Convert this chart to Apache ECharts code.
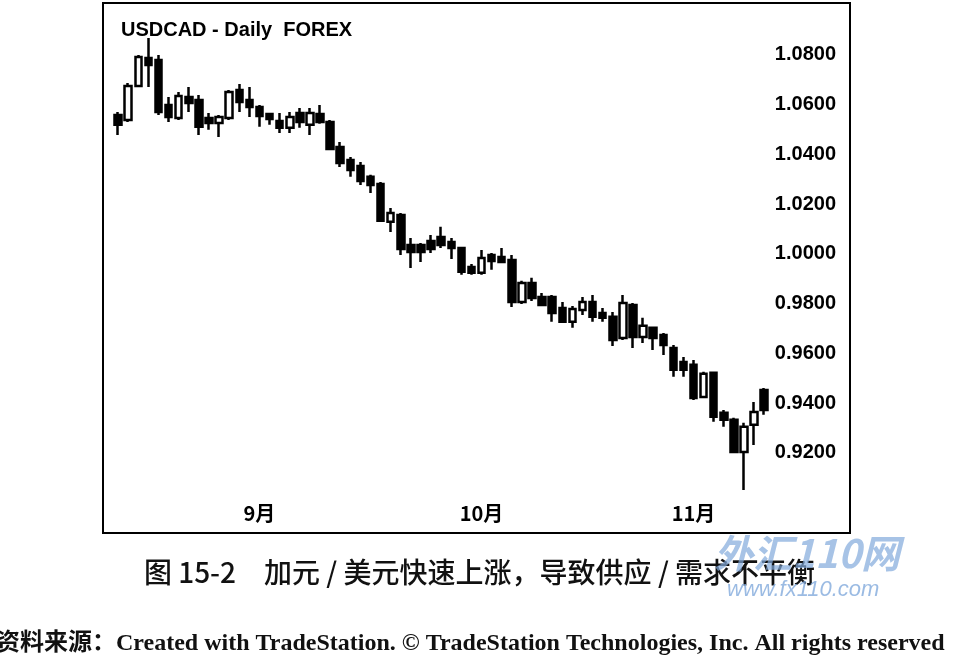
<!DOCTYPE html>
<html>
<head>
<meta charset="utf-8">
<script src="https://cdn.jsdelivr.net/npm/echarts@6/dist/echarts.min.js"></script>
<style>
  html, body { margin: 0; padding: 0; background: #fff; }
  #chart { width: 959px; height: 655px; }
</style>
</head>
<body>
<div id="chart"></div>
<script>
// ---- data ----
const chartTitle = 'USDCAD - Daily  FOREX';
const caption = '图 15-2　加元 / 美元快速上涨，导致供应 / 需求不平衡';
const source = '资料来源：Created with TradeStation. © TradeStation Technologies, Inc. All rights reserved';
const watermark1 = '外汇110网';
const watermark2 = 'www.fx110.com';

const opens  = [1.0559,1.0539,1.0675,1.0788,1.0780,1.0599,1.0547,1.0631,1.0619,1.0547,
                1.0527,1.0547,1.0659,1.0619,1.0591,1.0563,1.0535,1.0507,1.0567,1.0519,
                1.0563,1.0531,1.0430,1.0378,1.0354,1.0310,1.0281,1.0129,1.0157,1.0036,
                1.0036,1.0052,1.0068,1.0048,1.0024,0.9948,0.9924,0.9996,0.9988,0.9976,
                0.9807,0.9883,0.9827,0.9827,0.9783,0.9727,0.9775,0.9807,0.9763,0.9747,
                0.9662,0.9795,0.9666,0.9703,0.9674,0.9622,0.9566,0.9554,0.9425,0.9522,
                0.9361,0.9333,0.9204,0.9313,0.9453];
const closes = [1.0519,1.0675,1.0792,1.0760,1.0571,1.0551,1.0635,1.0607,1.0511,1.0527,
                1.0551,1.0651,1.0611,1.0591,1.0555,1.0543,1.0507,1.0551,1.0531,1.0567,
                1.0531,1.0422,1.0366,1.0338,1.0293,1.0277,1.0133,1.0165,1.0020,1.0008,
                1.0008,1.0020,1.0036,1.0024,0.9928,0.9924,0.9984,0.9972,0.9968,0.9807,
                0.9883,0.9823,0.9795,0.9763,0.9727,0.9779,0.9807,0.9747,0.9743,0.9654,
                0.9803,0.9666,0.9711,0.9662,0.9634,0.9534,0.9534,0.9421,0.9518,0.9345,
                0.9333,0.9204,0.9305,0.9365,0.9373];
const lows   = [1.0478,1.0531,1.0671,1.0671,1.0559,1.0531,1.0539,1.0571,1.0478,1.0499,
                1.0470,1.0539,1.0571,1.0551,1.0511,1.0519,1.0486,1.0486,1.0507,1.0478,
                1.0523,1.0418,1.0350,1.0310,1.0277,1.0245,1.0129,1.0088,0.9996,0.9944,
                0.9968,1.0004,1.0024,0.9980,0.9916,0.9916,0.9916,0.9936,0.9964,0.9787,
                0.9799,0.9811,0.9795,0.9727,0.9723,0.9703,0.9755,0.9727,0.9727,0.9630,
                0.9654,0.9622,0.9642,0.9614,0.9594,0.9506,0.9506,0.9413,0.9421,0.9325,
                0.9305,0.9200,0.9051,0.9232,0.9353];
const highs  = [1.0571,1.0687,1.0800,1.0868,1.0800,1.0631,1.0651,1.0671,1.0639,1.0567,
                1.0559,1.0659,1.0683,1.0671,1.0599,1.0567,1.0567,1.0571,1.0587,1.0587,
                1.0599,1.0539,1.0450,1.0390,1.0370,1.0318,1.0289,1.0185,1.0165,1.0064,
                1.0044,1.0076,1.0109,1.0064,1.0028,0.9960,1.0016,1.0004,1.0024,0.9996,
                0.9892,0.9904,0.9843,0.9835,0.9807,0.9791,0.9827,0.9835,0.9783,0.9767,
                0.9835,0.9803,0.9743,0.9707,0.9682,0.9634,0.9586,0.9574,0.9526,0.9526,
                0.9373,0.9341,0.9321,0.9405,0.9461];

const priceTicks = [0.92, 0.94, 0.96, 0.98, 1.00, 1.02, 1.04, 1.06, 1.08];
const monthLabels = ['9月', '10月', '11月'];
const monthIndex  = [15, 37, 58];   // category slots where the month labels sit
const leadSlots = 1;                // empty slot before the first bar
const totalSlots = 74;              // bars plus empty space under the price labels

// ---- build the library's inputs ----
const categories = [];
for (let i = 0; i < totalSlots; i++) categories.push('d' + i);
const candleData = [];
for (let i = 0; i < totalSlots; i++) {
  const k = i - leadSlots;
  if (k >= 0 && k < opens.length) candleData.push([opens[k], closes[k], lows[k], highs[k]]);
  else candleData.push('-');
}
const labelAt = {};
monthIndex.forEach((idx, j) => { labelAt[idx] = monthLabels[j]; });

const chart = echarts.init(document.getElementById('chart'), null, { renderer: 'canvas' });
chart.setOption({
  backgroundColor: '#ffffff',
  animation: false,
  title: {
    text: chartTitle,
    left: 116, top: 15,
    textStyle: { fontFamily: 'Liberation Sans, Arial, sans-serif', fontWeight: 'bold', fontSize: 20, color: '#000' }
  },
  grid: {
    left: 103, right: 109, top: 3, bottom: 122,
    show: true, borderColor: '#000', borderWidth: 2, backgroundColor: '#fff'
  },
  xAxis: {
    type: 'category',
    data: categories,
    boundaryGap: true,
    axisLine: { show: false },
    axisTick: { show: false },
    splitLine: { show: false },
    axisLabel: {
      inside: true,
      interval: 0,
      margin: 10,
      formatter: (v, i) => labelAt[i] || '',
      fontFamily: 'Noto Sans CJK SC, sans-serif',
      fontWeight: 'bold',
      fontSize: 20,
      color: '#000'
    }
  },
  yAxis: {
    type: 'value',
    position: 'right',
    min: 0.8878,
    max: 1.1009,
    scale: true,
    axisLine: { show: false },
    axisTick: { show: false },
    splitLine: { show: false },
    axisLabel: {
      inside: true,
      margin: 14,
      customValues: priceTicks,
      formatter: v => v.toFixed(4),
      fontFamily: 'Liberation Sans, Arial, sans-serif',
      fontWeight: 'bold',
      fontSize: 20,
      color: '#000'
    }
  },
  series: [{
    type: 'candlestick',
    data: candleData,
    barWidth: 7,
    itemStyle: {
      color: '#ffffff',
      borderColor: '#000000',
      color0: '#000000',
      borderColor0: '#000000',
      borderWidth: 2.5
    }
  }],
  graphic: [
    {
      type: 'text', left: 'center', top: 558,
      style: { text: caption, font: '500 28px "Noto Sans CJK SC", sans-serif', fill: '#111' }
    },
    {
      type: 'text', left: 714, top: 534,
      style: { text: watermark1, font: 'italic bold 39px "Noto Sans CJK SC", sans-serif', fill: 'rgba(130,170,220,0.7)' }
    },
    {
      type: 'text', left: 727, top: 579,
      style: { text: watermark2, font: 'italic 22px "Liberation Sans", Arial, sans-serif', fill: 'rgba(130,170,220,0.8)' }
    },
    {
      type: 'text', left: -4, top: 632,
      style: { text: source, font: 'bold 24px "Liberation Serif", "Noto Sans CJK SC", serif', fill: '#111' }
    }
  ]
});
</script>
</body>
</html>
